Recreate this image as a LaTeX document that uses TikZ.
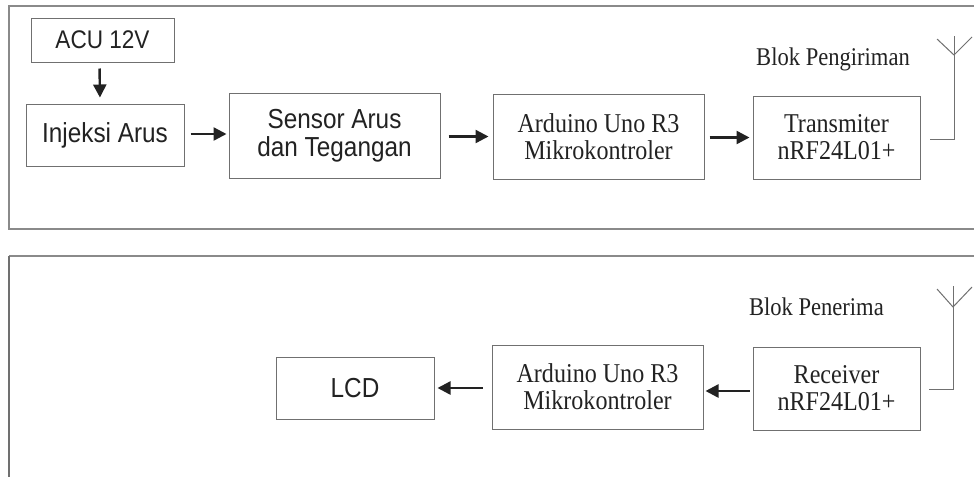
\documentclass[tikz,border=0pt]{standalone}
\usepackage{fontspec}
\setmainfont{Liberation Serif}[FakeStretch=0.885]
\setsansfont{Liberation Sans}[FakeStretch=0.885]
\usetikzlibrary{arrows.meta,calc}
\definecolor{boxgray}{HTML}{707070}
\definecolor{framegray}{HTML}{8A8A8A}
\definecolor{inkc}{HTML}{222222}
\tikzset{
  blk/.style={draw=boxgray, line width=1pt, inner sep=0pt, align=center, text=inkc},
  serifbox/.style={blk, font=\fontsize{27.2}{27}\selectfont\rmfamily},
  sansbox/.style={blk, font=\fontsize{27.5}{27.5}\selectfont\sffamily},
  flow/.style={draw=inkc, line width=2.4pt, -{Triangle[length=13pt,width=13pt]}},
  frameline/.style={draw=framegray, line width=1.1pt},
  antenna/.style={draw=boxgray, line width=1pt},
  titletext/.style={font=\fontsize{25.5}{27}\selectfont\rmfamily, text=inkc, inner sep=0pt, anchor=base east}
}
\begin{document}
\begin{tikzpicture}[x=1pt,y=-1pt]
\useasboundingbox[fill=white] (0,0) rectangle (974,477);
% frames
\draw[frameline] (974,6) -- (9,6) -- (9,229) -- (974,229);
\draw[frameline] (974,256) -- (9,256);
\draw[draw=boxgray, line width=1.8pt] (9,256) -- (9,477);
% titles
\node[titletext] (t1) at (910,65) {Blok Pengiriman};
\node[titletext] (t2) at (884,315) {Blok Penerima};
% top row
\node[sansbox, font=\fontsize{25.5}{27}\selectfont\sffamily, minimum width=143pt, minimum height=44pt] (acu) at (102.5,40) {ACU 12V};
\node[sansbox, minimum width=158pt, minimum height=62pt] (inj) at (105,135) {Injeksi Arus};
\node[sansbox, minimum width=211pt, minimum height=85pt] (sens) at (334.5,135.5) {Sensor Arus\\dan Tegangan};
\node[serifbox, minimum width=211pt, minimum height=85pt] (ard1) at (598.5,136.5) {Arduino Uno R3\\Mikrokontroler};
\node[serifbox, minimum width=167pt, minimum height=83pt] (tx) at (836.5,137.5) {Transmiter\\nRF24L01+};
% bottom row
\node[sansbox, minimum width=158pt, minimum height=62pt] (lcd) at (355,388) {LCD};
\node[serifbox, minimum width=211pt, minimum height=84pt] (ard2) at (597.5,387) {Arduino Uno R3\\Mikrokontroler};
\node[serifbox, minimum width=167pt, minimum height=83pt] (rx) at (836.5,388.5) {Receiver\\nRF24L01+};
% arrows
\draw[flow, shorten <=6pt, shorten >=6pt] ([xshift=-3pt]acu.south) -- ([xshift=-5pt]inj.north);
\draw[flow, shorten <=6pt, shorten >=2pt] ([yshift=1pt]inj.east) -- ([yshift=1pt]inj.east -| sens.west);
\draw[flow, shorten <=8pt, shorten >=4pt] ([yshift=-1pt]sens.east) -- ([yshift=-1pt]sens.east -| ard1.west);
\draw[flow, shorten <=5pt, shorten >=3pt] ([yshift=-1pt]ard1.east) -- ([yshift=-1pt]ard1.east -| tx.west);
\draw[flow, shorten <=9pt, shorten >=3pt] ([yshift=-1pt]ard2.west) -- ([yshift=-1pt]ard2.west -| lcd.east);
\draw[flow, shorten <=3pt, shorten >=2pt] ([yshift=-2.5pt]rx.west) -- ([yshift=-2.5pt]rx.west -| ard2.east);
% antennas
\coordinate (a1b) at (930,139);
\coordinate (a1c) at (954,139);
\coordinate (a1t) at (954,36);
\coordinate (a1v) at (954,55);
\draw[antenna] (a1b) -- (a1c) -- (a1t);
\draw[antenna] (937,39) -- (a1v) -- (972,37);
\coordinate (a2b) at (929,389);
\coordinate (a2c) at (953,389);
\coordinate (a2t) at (953,286);
\coordinate (a2v) at (953,307);
\draw[antenna] (a2b) -- (a2c) -- (a2t);
\draw[antenna] (937,289) -- (a2v) -- (972,287);
\end{tikzpicture}
\end{document}
